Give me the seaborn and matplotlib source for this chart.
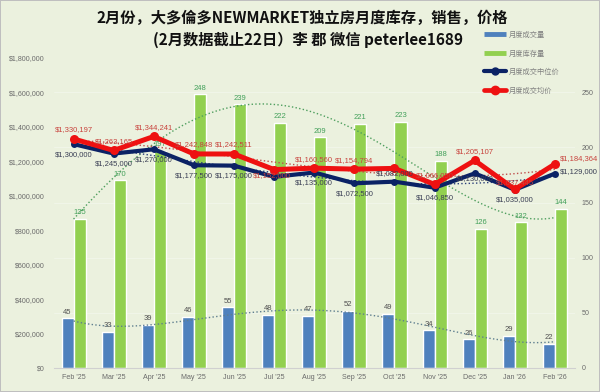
import numpy as np
import pandas as pd
import seaborn as sns
import matplotlib.pyplot as plt
from matplotlib.lines import Line2D
from matplotlib.ticker import FuncFormatter, MultipleLocator

# data
months = ["Feb '25", "Mar '25", "Apr '25", "May '25", "Jun '25", "Jul '25", "Aug '25",
          "Sep '25", "Oct '25", "Nov '25", "Dec '25", "Jan '26", "Feb '26"]
sales = [45, 33, 39, 46, 55, 48, 47, 52, 49, 34, 26, 29, 22]
inventory = [135, 170, 197, 248, 239, 222, 209, 221, 223, 188, 126, 132, 144]
median_price = [1300000, 1245000, 1270000, 1177500, 1175000, 1110000, 1135000,
                1072500, 1082000, 1046850, 1130000, 1035000, 1129000]
avg_price = [1330197, 1263165, 1344241, 1242848, 1242511, 1152000, 1160560,
             1154794, 1159000, 1066050, 1205107, 1037445, 1184364]

series_names = ["月度成交量", "月度库存量", "月度成交中位价", "月度成交均价"]
title1 = "2月份，大多倫多NEWMARKET独立房月度库存，销售，价格"
title2 = "(2月数据截止22日）李 郡 微信 peterlee1689"

bg = "#EBF1DE"
blue = "#4F81BD"
green = "#92D050"
navy = "#0B2265"
red = "#EE1111"

sns.set_theme(style="white")
plt.rcParams['font.family'] = ['Liberation Sans', 'DejaVu Sans']
cjk = ['Noto Sans CJK SC', 'DejaVu Sans']
fs_lab = 5.5
fs_tick = 5.1

fig = plt.figure(figsize=(6, 3.92), dpi=100, facecolor=bg, edgecolor="#BFBFBF", linewidth=1.2)
ax = fig.add_axes([53.5 / 600, 24 / 392, 521.5 / 600, 310 / 392])
ax.set_facecolor(bg)

# bars (right axis, counts)
bars = pd.DataFrame({"month": months * 2,
                     "count": sales + inventory,
                     "series": [series_names[0]] * len(months) + [series_names[1]] * len(months)})
sns.barplot(data=bars, x="month", y="count", hue="series", palette=[blue, green],
            width=0.6, gap=0, saturation=1, ax=ax, legend=False, zorder=2)
ax.bar_label(ax.containers[0], padding=2, fontsize=fs_lab, color="#505050")
ax.bar_label(ax.containers[1], padding=2, fontsize=fs_lab, color="#43A05A")

# dotted polynomial trendlines
xs = np.arange(len(months))
sns.regplot(x=xs, y=inventory, order=4, scatter=False, ci=None, ax=ax, color="#4E9E5E",
            line_kws=dict(ls=":", lw=1.0, zorder=3))
sns.regplot(x=xs, y=sales, order=4, scatter=False, ci=None, ax=ax, color="#5F7F8F",
            line_kws=dict(ls=":", lw=1.0, zorder=3))

ax.set_xlim(-0.5, len(months) - 0.5)
ax.set_ylim(0, 281)
ax.yaxis.set_major_locator(MultipleLocator(50))
ax.grid(axis="y", color="#F2F6EA", lw=0.6, zorder=0)
ax.set_axisbelow(True)
ax.set_xlabel("")
ax.set_ylabel("")
for s in ["top", "left", "right"]:
    ax.spines[s].set_visible(False)
ax.spines["bottom"].set_color("#D0D0D0")
ax.spines["bottom"].set_linewidth(0.8)

# price lines (left axis)
ax2 = ax.twinx()
ax.yaxis.tick_right()
ax.yaxis.set_label_position("right")
ax.tick_params(axis="both", length=0, labelsize=fs_tick, colors="#6B6B6B")
ax.tick_params(axis="x", pad=4)
ax.tick_params(axis="y", pad=5)

sns.regplot(x=xs, y=median_price, order=4, scatter=False, ci=None, ax=ax2, color="#2A3F7A",
            line_kws=dict(ls=":", lw=1.0, zorder=3))
sns.regplot(x=xs, y=avg_price, order=4, scatter=False, ci=None, ax=ax2, color="#C0504D",
            line_kws=dict(ls=":", lw=1.0, zorder=3))
sns.lineplot(x=xs, y=median_price, ax=ax2, color=navy, lw=3.0, marker="o", markersize=5,
             markeredgewidth=0, zorder=4)
sns.lineplot(x=xs, y=avg_price, ax=ax2, color=red, lw=3.6, marker="o", markersize=6.5,
             markeredgewidth=0, zorder=5)
ax2.set_ylim(0, 1800000)
ax2.yaxis.set_major_locator(MultipleLocator(200000))
ax2.yaxis.set_major_formatter(FuncFormatter(lambda v, p: "${:,.0f}".format(v)))
ax2.yaxis.tick_left()
ax2.set_ylabel("")
ax2.tick_params(axis="y", length=0, labelsize=fs_tick, colors="#6B6B6B", pad=6)
for s in ax2.spines.values():
    s.set_visible(False)
ax2.set_xlim(-0.5, len(months) - 0.5)

# price labels: offsets in points, None = not shown
red_off = {i: (0, 6.5, "center") for i in range(len(months))}
red_off[5] = (-1.5, -4, "center")
red_off[8] = None
red_off[11] = (0, 5, "center")
red_off[12] = (3.6, 3.6, "left")
navy_off = {i: (0, -7.2, "center") for i in range(len(months))}
navy_off[5] = None
navy_off[8] = (0, 5.5, "center")
navy_off[10] = (0, -4, "center")
navy_off[12] = (3.6, 1.5, "left")

for i in range(len(months)):
    if red_off[i] is not None:
        dx, dy, ha = red_off[i]
        ax2.annotate("${:,}".format(avg_price[i]), (xs[i], avg_price[i]), xytext=(dx, dy),
                     textcoords="offset points", ha=ha, va="center", fontsize=fs_lab,
                     color="#C8433D", zorder=6)
    if navy_off[i] is not None:
        dx, dy, ha = navy_off[i]
        ax2.annotate("${:,}".format(median_price[i]), (xs[i], median_price[i]), xytext=(dx, dy),
                     textcoords="offset points", ha=ha, va="center", fontsize=fs_lab,
                     color="#3A3F55", zorder=6)

# legend
handles = [Line2D([], [], color=blue, lw=3.5, solid_capstyle="butt"),
           Line2D([], [], color=green, lw=3.5, solid_capstyle="butt"),
           Line2D([], [], color=navy, lw=3, marker="o", markersize=5),
           Line2D([], [], color=red, lw=3.4, marker="o", markersize=6)]
fig.legend(handles, series_names, loc="upper left", bbox_to_anchor=(484 / 600, 1 - 31 / 392),
           frameon=False, borderaxespad=0, borderpad=0, handlelength=3.0, handletextpad=0.4,
           labelspacing=1.45, prop=dict(family=cjk, size=5.2), labelcolor="#7F7F7F")

fig.text(302 / 600, 1 - 18 / 392, title1, ha="center", va="center", fontsize=11,
         weight="bold", family=cjk, color="#111111")
fig.text(308 / 600, 1 - 40 / 392, title2, ha="center", va="center", fontsize=11,
         weight="bold", family=cjk, color="#111111")

plt.savefig("out.png", dpi=100)
plt.close()
